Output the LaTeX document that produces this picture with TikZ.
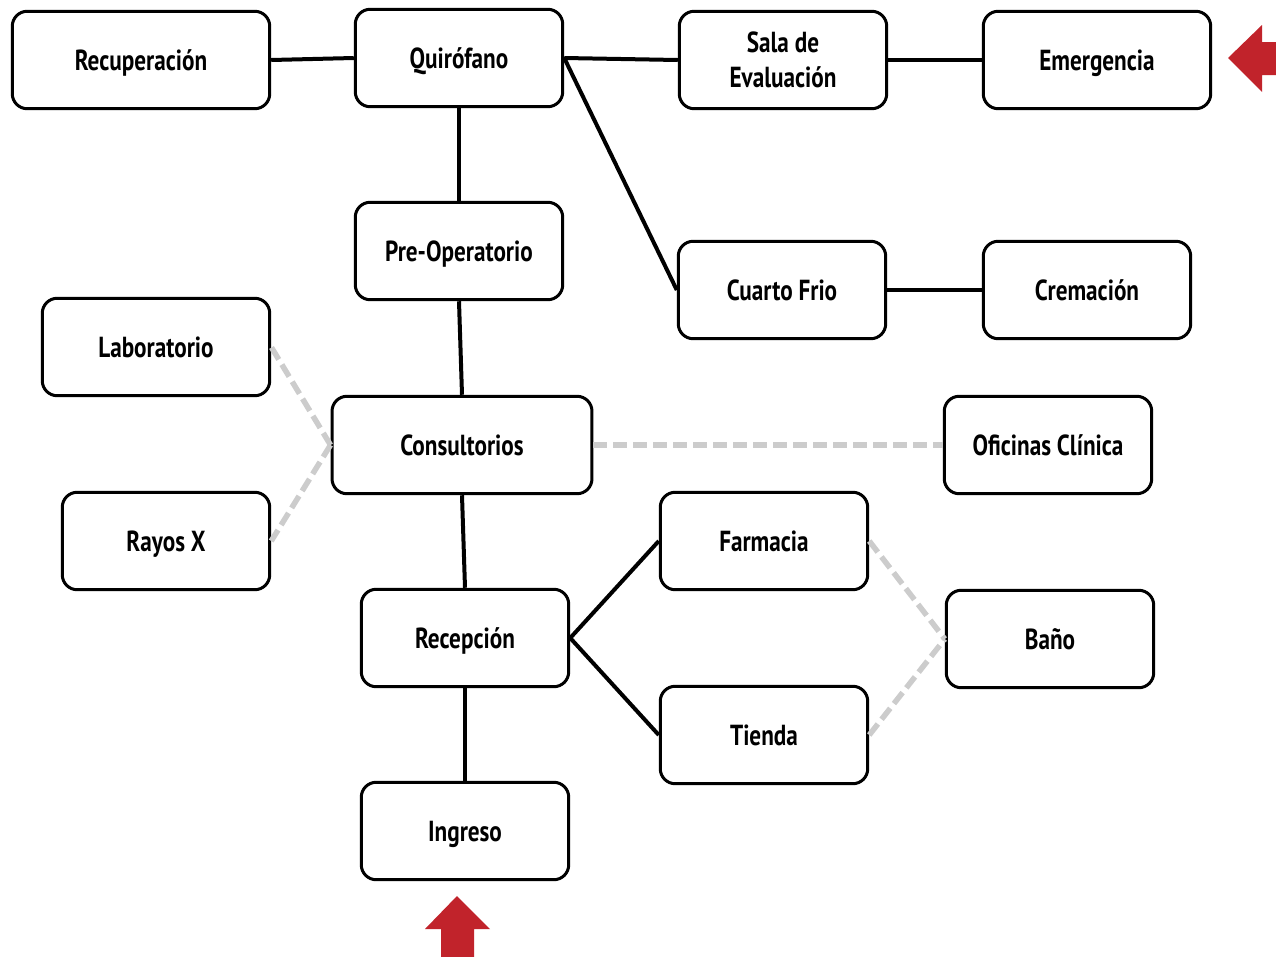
\documentclass[tikz,border=0pt]{standalone}
\usepackage{fontspec}
\setmainfont{PT Sans}[FakeStretch=0.8]
\usepackage{xcolor}
\usepackage{tikz}
\usetikzlibrary{arrows.meta,positioning,calc}
\definecolor{flechared}{HTML}{C1232B}
\definecolor{dashgray}{HTML}{CCCCCC}
\tikzset{
  areabox/.style={draw=black, line width=0.06cm, fill=white, rounded corners=0.3cm, align=center, minimum width=4.15cm, minimum height=1.95cm, text depth=0pt, font=\fontsize{16.5}{20}\selectfont\bfseries},
  wideareabox/.style={areabox, minimum width=4.55cm},
  link/.style={line width=0.08cm, draw=black},
  softlink/.style={line width=0.11cm, draw=dashgray, dash pattern=on 0.28cm off 0.12cm},
  entry/.style={fill=flechared, draw=none}
}

\begin{document}
\begin{tikzpicture}[x=0.02cm, y=-0.02cm]
    \useasboundingbox (0,0) rectangle (1276,957);
    % fila superior
    \node[wideareabox, minimum width=5.15cm] (recup) at (141,60) {Recuperación};
    \node[areabox] (quiro) at (459,58) {Quirófano};
    \node[areabox] (sala) at (783,60) {Sala de\\Evaluación};
    \node[wideareabox] (emerg) at (1097,60) {Emergencia};
    \node[areabox] (preop) at (459,251) {Pre-Operatorio};
    \node[areabox] (frio) at (782,290) {Cuarto Frio};
    \node[areabox] (crema) at (1087,290) {Cremación};
    % zona media
    \node[wideareabox] (lab) at (156,347) {Laboratorio};
    \node[areabox, minimum width=5.2cm] (consul) at (462,445) {Consultorios};
    \node[areabox] (ofic) at (1048,445) {Oficinas Clínica};
    \node[areabox] (rayos) at (166,541) {Rayos X};
    \node[areabox] (farma) at (764,541) {Farmacia};
    \node[areabox] (recep) at (465,638) {Recepción};
    \node[areabox] (bano) at (1050,639) {Baño};
    \node[areabox] (tienda) at (764,735) {Tienda};
    \node[areabox] (ingreso) at (465,831) {Ingreso};
    \draw[link] (recup.east) -- (quiro.west);
    \draw[link] (quiro.east) -- (sala.west);
    \draw[link] (quiro.east) -- (frio.west);
    \draw[link] (sala) -- (emerg);
    \draw[link] (frio) -- (crema);
    \draw[link] (quiro.south) -- (preop.north);
    \draw[link] (preop.south) -- (consul.north);
    \draw[link] (consul.south) -- (recep.north);
    \draw[link] (recep.south) -- (ingreso.north);
    \draw[link] (recep.east) -- (farma.west);
    \draw[link] (recep.east) -- (tienda.west);
    \draw[softlink] (consul.west) -- (lab.east);
    \draw[softlink] (consul.west) -- (rayos.east);
    \draw[softlink] (consul.east) -- (ofic.west);
    \draw[softlink] (farma.east) -- (bano.west);
    \draw[softlink] (tienda.east) -- (bano.west);
    % accesos
    \fill[entry] (1228,58) -- (1262,25) -- (1262,42) -- (1276,42) -- (1276,75) -- (1262,75) -- (1262,92) -- cycle;
    \fill[entry] (457,896) -- (490,929) -- (474,929) -- (474,957) -- (441,957) -- (441,929) -- (425,929) -- cycle;
\end{tikzpicture}
\end{document}
